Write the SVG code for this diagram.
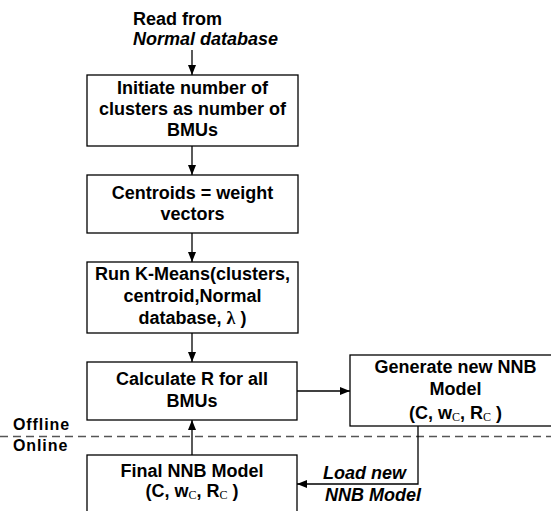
<svg xmlns="http://www.w3.org/2000/svg" width="551" height="511" viewBox="0 0 551 511">
<style>
.box{fill:#fff;stroke:#000;stroke-width:1.3}
.t{font-family:"Liberation Sans",Arial,sans-serif;font-weight:bold;font-size:18px;fill:#000}
.c{text-anchor:middle}
.i{font-style:italic}
.z{font-size:16px;letter-spacing:0.9px}
.sub{font-family:"Liberation Serif","Times New Roman",serif;font-weight:normal;font-size:12px}
.ln{fill:none;stroke:#000;stroke-width:1.3}
.dash{fill:none;stroke:#555;stroke-width:1.6;stroke-dasharray:8,5}
</style>
<defs>
<marker id="ah" viewBox="0 0 10 8" refX="10" refY="4" markerWidth="10" markerHeight="8" markerUnits="userSpaceOnUse" orient="auto">
<path d="M0,0 L10,4 L0,8 Z" fill="#000"/>
</marker>
</defs>
<rect width="551" height="511" fill="#fff"/>
<g id="start">
<text class="t" x="133" y="25">Read from</text>
<text class="t i" x="133" y="45">Normal database</text>
</g>
<g id="init">
<rect class="box" x="87" y="75" width="211" height="71"/>
<text class="t c" x="192.5" y="94">Initiate number of</text>
<text class="t c" x="192.5" y="115">clusters as number of</text>
<text class="t c" x="192.5" y="136">BMUs</text>
</g>
<g id="centroids">
<rect class="box" x="87" y="175" width="211" height="58"/>
<text class="t c" x="192.5" y="199">Centroids = weight</text>
<text class="t c" x="192.5" y="220">vectors</text>
</g>
<g id="kmeans">
<rect class="box" x="87" y="262" width="211" height="71"/>
<text class="t c" x="192.5" y="280">Run K-Means(clusters,</text>
<text class="t c" x="192.5" y="302">centroid,Normal</text>
<text class="t c" x="192.5" y="324">database, <tspan font-family="Liberation Serif,serif">λ</tspan> )</text>
</g>
<g id="calc">
<rect class="box" x="87" y="362" width="210" height="58"/>
<text class="t c" x="192" y="385">Calculate R for all</text>
<text class="t c" x="192" y="407">BMUs</text>
</g>
<g id="generate">
<rect class="box" x="350" y="355" width="211" height="71"/>
<text class="t c" x="455.5" y="373">Generate new NNB</text>
<text class="t c" x="455.5" y="395">Model</text>
<text class="t c" x="455.5" y="419">(C, w<tspan class="sub" dy="2">C</tspan><tspan dy="-2">, R</tspan><tspan class="sub" dy="2">C</tspan><tspan dy="-2"> )</tspan></text>
</g>
<g id="final">
<rect class="box" x="87" y="455" width="210" height="80"/>
<text class="t c" x="192" y="477">Final NNB Model</text>
<text class="t c" x="192" y="497">(C, w<tspan class="sub" dy="2">C</tspan><tspan dy="-2">, R</tspan><tspan class="sub" dy="2">C</tspan><tspan dy="-2"> )</tspan></text>
</g>
<g id="zones">
<line class="dash" x1="0" y1="436.5" x2="551" y2="436.5"/>
<text class="t z" x="13" y="430">Offline</text>
<text class="t z" x="13" y="451">Online</text>
</g>
<g id="connectors">
<line class="ln" x1="192" y1="50" x2="192" y2="75" marker-end="url(#ah)"/>
<line class="ln" x1="192" y1="146" x2="192" y2="175" marker-end="url(#ah)"/>
<line class="ln" x1="192" y1="233" x2="192" y2="262" marker-end="url(#ah)"/>
<line class="ln" x1="192" y1="333" x2="192" y2="362" marker-end="url(#ah)"/>
<line class="ln" x1="297" y1="391" x2="350" y2="391" marker-end="url(#ah)"/>
<line class="ln" x1="192" y1="455" x2="192" y2="420" marker-end="url(#ah)"/>
<polyline class="ln" points="418,426 418,484 297,484" marker-end="url(#ah)"/>
<text class="t i" x="323" y="479">Load new</text>
<text class="t i" x="325" y="501">NNB Model</text>
</g>
</svg>
